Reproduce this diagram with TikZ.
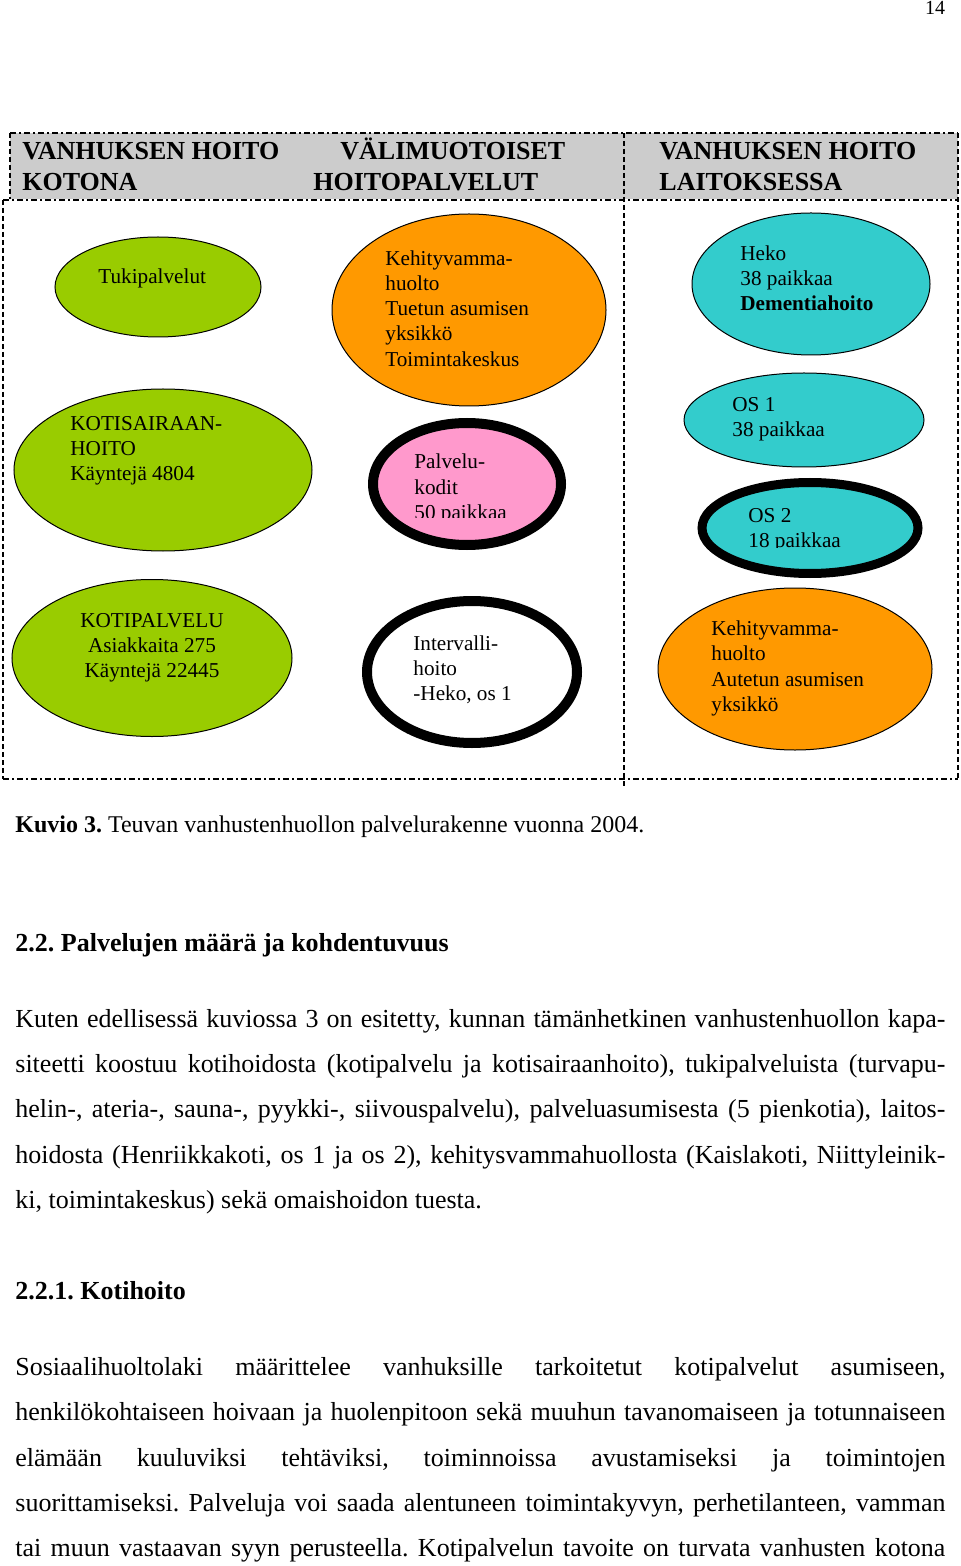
\documentclass[tikz,border=0pt]{standalone}
\usepackage{fontspec}
\setmainfont{Liberation Serif}
\usepackage{graphicx}
\usetikzlibrary{shapes.geometric}

\definecolor{kgreen}{HTML}{99CC00}
\definecolor{korange}{HTML}{FF9900}
\definecolor{kcyan}{HTML}{33CCCC}
\definecolor{kpink}{HTML}{FF99CC}
\definecolor{kgray}{HTML}{CCCCCC}

\newlength\linew
\setlength\linew{465pt}
\newcommand\fitline[1]{\sbox0{#1}\ifdim\wd0>\linew\resizebox{\linew}{\height}{#1}\else\makebox[\linew][s]{#1}\fi}
\frenchspacing

\begin{document}
\begin{tikzpicture}[x=0.5pt, y=-0.5pt,
	blob/.style={ellipse, draw, line width=0.5pt, inner sep=0pt},
	ring/.style={ellipse, draw, line width=5pt, inner sep=0pt},
	lbl/.style={font=\fontsize{10.6}{12.6}\selectfont, align=left, anchor=west, inner sep=0pt},
	hdr/.style={font=\fontsize{13}{15}\selectfont\bfseries, anchor=base west, inner sep=0pt},
	txt/.style={font=\fontsize{13}{15}\selectfont, anchor=base west, inner sep=0pt},
	hline/.style={line width=0.6pt, dash pattern=on 3pt off 1.5pt on 1pt off 1.5pt},
	vline/.style={line width=0.6pt, dash pattern=on 2.5pt off 1.5pt}]
	\useasboundingbox (0,0) rectangle (960,1566);

	\node[font=\fontsize{10}{12}\selectfont, anchor=base, inner sep=0pt] (pagenum) at (935,15) {14};

	\coordinate[](htl) at (10,133);
	\coordinate[](hbr) at (958,199);
	\coordinate[](btl) at (3,200);
	\coordinate[](bbr) at (958,779);

	\fill[kgray] (htl) rectangle (hbr);
	\draw[hline] (htl) -- (958,133);
	\draw[vline] (htl) -- (10,199);
	\draw[hline] (btl) -- (958,200);
	\draw[vline] (btl) -- (3,779);
	\draw[hline] (3,779) -- (bbr);
	\draw[vline] (958,133) -- (bbr);
	\draw[vline] (624,133) -- (624,786);

	\node[hdr] (koti1) at (22,159.5) {VANHUKSEN HOITO};
	\node[hdr] (koti2) at (22,190.5) {KOTONA};
	\node[hdr] (vali1) at (340,159.5) {VÄLIMUOTOISET};
	\node[hdr] (vali2) at (313,190.5) {HOITOPALVELUT};
	\node[hdr] (lait1) at (659,159.5) {VANHUKSEN HOITO};
	\node[hdr] (lait2) at (659,190.5) {LAITOKSESSA};

	\node[blob, fill=kgreen, minimum width=103pt, minimum height=50pt] (tuki) at (158,287) {};
	\node[blob, fill=korange, minimum width=137pt, minimum height=96pt] (kehi1) at (469,310) {};
	\node[blob, fill=kcyan, minimum width=119pt, minimum height=71pt] (heko) at (811,284) {};
	\node[blob, fill=kgreen, minimum width=149pt, minimum height=81pt] (ksair) at (163,470) {};
	\node[ring, fill=kpink, minimum width=94pt, minimum height=61pt] (palv) at (467,484) {};
	\node[blob, fill=kcyan, minimum width=120pt, minimum height=47pt] (os1) at (804,420) {};
	\node[ring, line width=4.5pt, fill=kcyan, minimum width=108pt, minimum height=45.5pt] (os2) at (810,528) {};
	\node[blob, fill=kgreen, minimum width=140pt, minimum height=78.5pt] (kpalv) at (152,658) {};
	\node[ring, fill=white, minimum width=105pt, minimum height=71pt] (interv) at (472,672) {};
	\node[blob, fill=korange, minimum width=137pt, minimum height=81pt] (kehi2) at (795,669) {};

	\node[lbl] (tukit) at (98,278) {Tukipalvelut};
	\node[lbl] (kehi1t) at (385,308.5) {Kehityvamma-\\huolto\\Tuetun asumisen\\yksikkö\\Toimintakeskus};
	\node[lbl] (hekot) at (740,278.5) {Heko\\38 paikkaa\\\textbf{Dementiahoito}};
	\node[lbl] (ksairt) at (70,450.5) {KOTISAIRAAN-\\HOITO\\Käyntejä 4804};
	\begin{scope}
		\clip (400,440) rectangle (560,518);
		\node[lbl] (palvt) at (414,489) {Palvelu-\\kodit\\50 paikkaa};
	\end{scope}
	\node[lbl] (os1t) at (732,419) {OS 1\\38 paikkaa};
	\begin{scope}
		\clip (740,495) rectangle (900,547);
		\node[lbl] (os2t) at (748,530) {OS 2\\18 paikkaa};
	\end{scope}
	\node[lbl, align=center, anchor=center] (kpalvt) at (152,647.5) {KOTIPALVELU\\Asiakkaita 275\\Käyntejä 22445};
	\node[lbl] (intervt) at (413,669.5) {Intervalli-\\hoito\\-Heko, os 1};
	\node[lbl] (kehi2t) at (711,668.5) {Kehityvamma-\\huolto\\Autetun asumisen\\yksikkö};

	\node[txt, font=\fontsize{12}{14}\selectfont] (kuvio) at (15,832) {\textbf{Kuvio 3.} Teuvan vanhustenhuollon palvelurakenne vuonna 2004.};

	\node[hdr] (otsikko) at (15,951) {2.2. Palvelujen määrä ja kohdentuvuus};
	\node[txt] (p1a) at (15,1027) {\fitline{Kuten edellisessä kuviossa 3 on esitetty, kunnan tämänhetkinen vanhustenhuollon kapa-}};
	\node[txt] (p1b) at (15,1072) {\fitline{siteetti koostuu kotihoidosta (kotipalvelu ja kotisairaanhoito), tukipalveluista (turvapu-}};
	\node[txt] (p1c) at (15,1117) {\fitline{helin-, ateria-, sauna-, pyykki-, siivouspalvelu), palveluasumisesta (5 pienkotia), laitos-}};
	\node[txt] (p1d) at (15,1163) {\fitline{hoidosta (Henriikkakoti, os 1 ja os 2), kehitysvammahuollosta (Kaislakoti, Niittyleinik-}};
	\node[txt] (p1e) at (15,1208) {ki, toimintakeskus) sekä omaishoidon tuesta.};

	\node[hdr] (alaotsikko) at (15,1299) {2.2.1. Kotihoito};
	\node[txt] (p2a) at (15,1375) {\fitline{Sosiaalihuoltolaki määrittelee vanhuksille tarkoitetut kotipalvelut asumiseen,}};
	\node[txt] (p2b) at (15,1420) {\fitline{henkilökohtaiseen hoivaan ja huolenpitoon sekä muuhun tavanomaiseen ja totunnaiseen}};
	\node[txt] (p2c) at (15,1466) {\fitline{elämään kuuluviksi tehtäviksi, toiminnoissa avustamiseksi ja toimintojen}};
	\node[txt] (p2d) at (15,1511) {\fitline{suorittamiseksi. Palveluja voi saada alentuneen toimintakyvyn, perhetilanteen, vamman}};
	\node[txt] (p2e) at (15,1556) {\fitline{tai muun vastaavan syyn perusteella. Kotipalvelun tavoite on turvata vanhusten kotona}};
\end{tikzpicture}
\end{document}
